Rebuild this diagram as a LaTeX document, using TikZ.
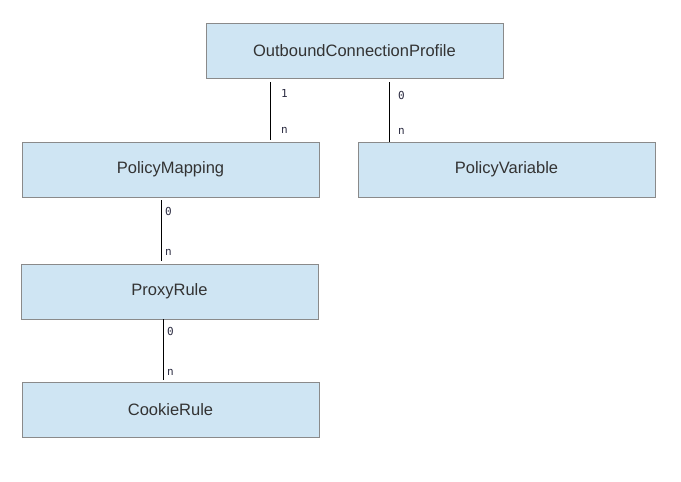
\documentclass[tikz,border=0pt]{standalone}
\usepackage{fontspec}
\setmainfont{Liberation Sans}
\newfontfamily\labelfont{DejaVu Sans Mono}
\usetikzlibrary{positioning}
\definecolor{boxfill}{HTML}{CFE5F3}
\definecolor{boxline}{HTML}{8A8A8A}
\definecolor{boxtext}{HTML}{333333}
\definecolor{multext}{HTML}{2A2A40}

\begin{document}
\begin{tikzpicture}[x=1pt,y=1pt]
	\tikzset{entity/.style={draw=boxline,fill=boxfill,text=boxtext,minimum width=297pt,minimum height=55pt,inner sep=0pt,font=\fontsize{16.5}{19}\selectfont},
		mult/.style={anchor=west,inner sep=0pt,text=multext,font=\labelfont\fontsize{11}{13}\selectfont},
		link/.style={draw=black,line width=0.8pt}}
	\useasboundingbox (0,0) rectangle (681,482);
	\node[entity] (ocp) at (354.5,431.5) {OutboundConnectionProfile};
	\node[entity] (pm) at (170.5,312.5) {PolicyMapping};
	\node[entity] (pv) at (506.5,312.5) {PolicyVariable};
	\node[entity] (pr) at (169.5,190.5) {ProxyRule};
	\node[entity] (cr) at (170.5,72) {CookieRule};
	\path[link]
		([xshift=65pt,yshift=-4pt]ocp.south west) -- ([xshift=65pt,yshift=2pt]ocp.south west |- pm.north)
			node[mult,pos=0.2,xshift=10pt] {1} node[mult,pos=0.83,xshift=10pt] {n}
		([xshift=184pt,yshift=-4pt]ocp.south west) -- ([xshift=184pt]ocp.south west |- pv.north)
			node[mult,pos=0.22,xshift=8pt] {0} node[mult,pos=0.83,xshift=8pt] {n}
		([xshift=140pt,yshift=-3pt]pm.south west) -- ([xshift=140pt,yshift=3pt]pm.south west |- pr.north)
			node[mult,pos=0.18,xshift=3pt] {0} node[mult,pos=0.87,xshift=3pt] {n}
		([xshift=143pt]pr.south west) -- ([xshift=143pt,yshift=2pt]pr.south west |- cr.north)
			node[mult,pos=0.2,xshift=3pt] {0} node[mult,pos=0.87,xshift=3pt] {n};
\end{tikzpicture}
\end{document}
